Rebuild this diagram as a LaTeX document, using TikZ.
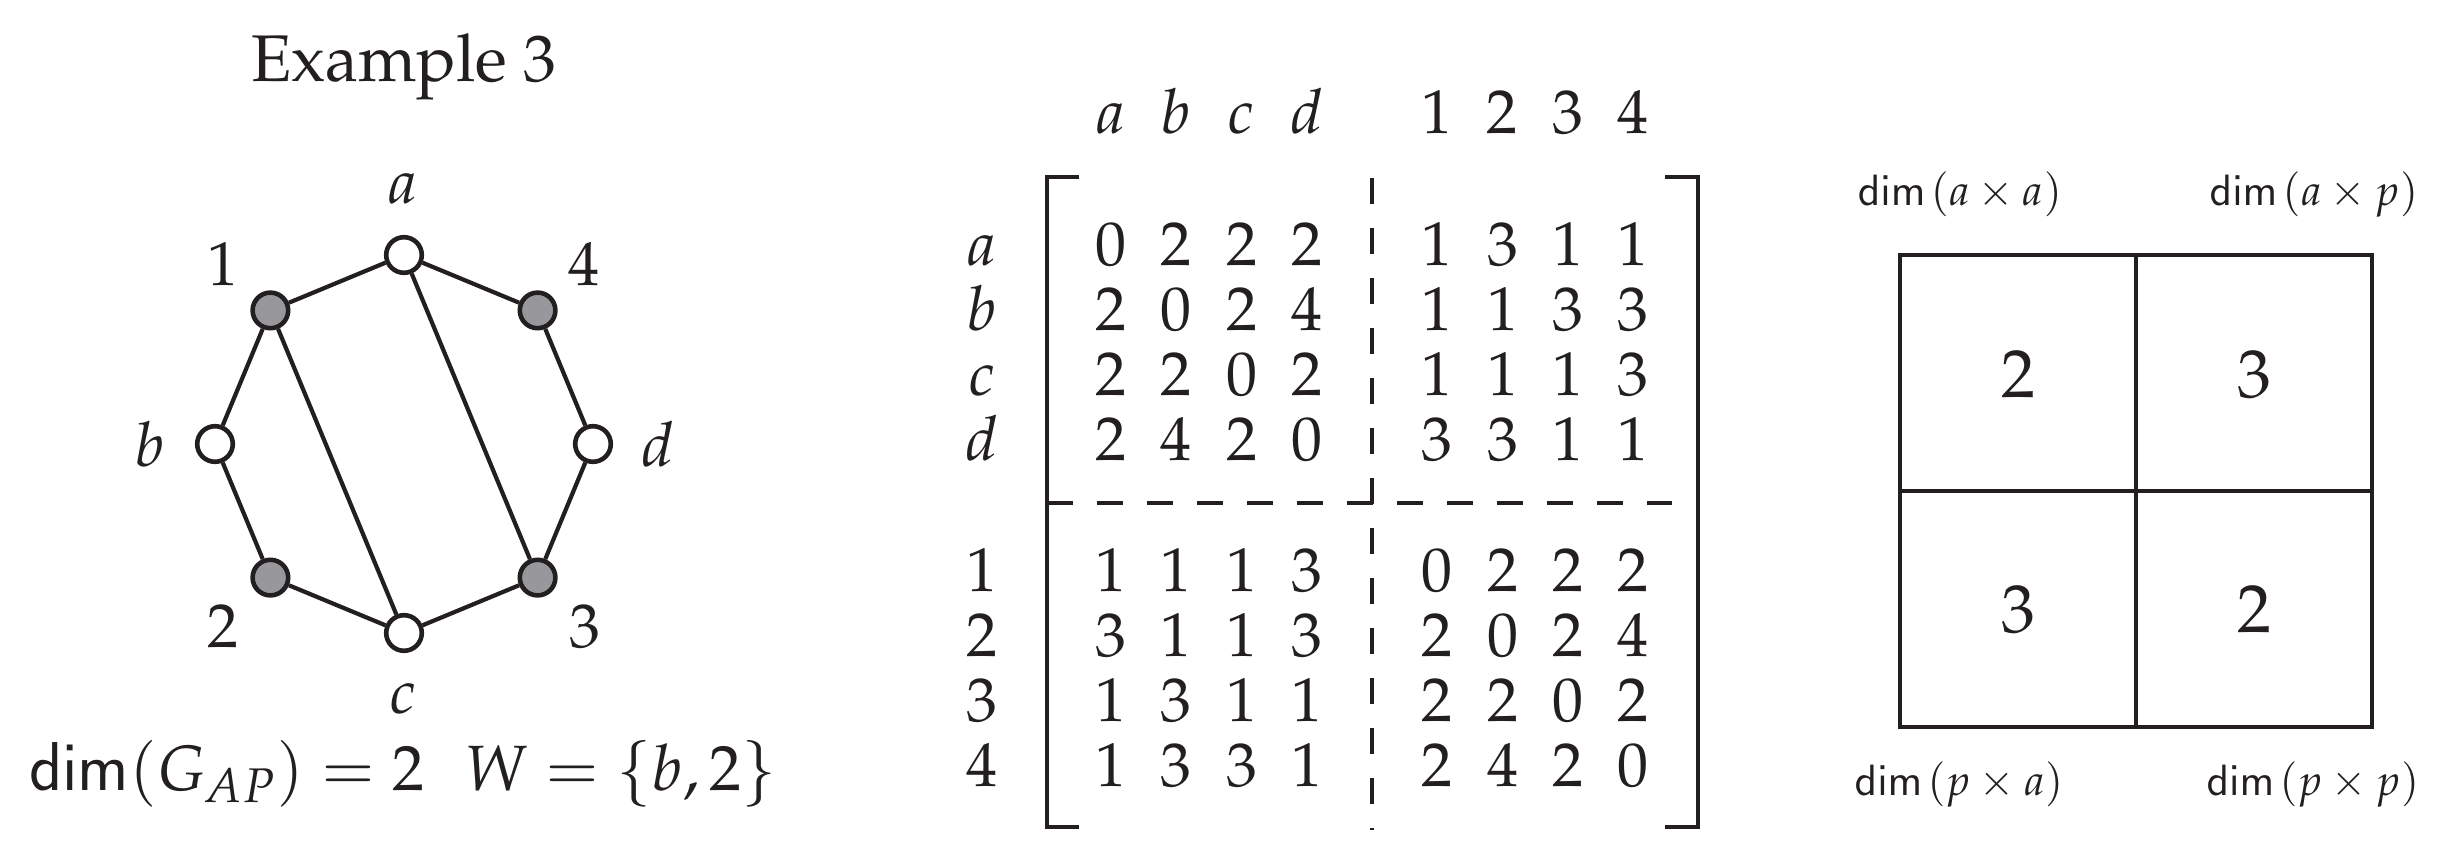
\documentclass[tikz,border=0pt]{standalone}
\usepackage[T1]{fontenc}
\usepackage{mathpazo}
\definecolor{nodegray}{RGB}{152,152,156}
\definecolor{ink}{RGB}{35,31,32}
\tikzset{
  vtx/.style={circle, draw=ink, line width=1.15pt, minimum size=8.9pt, inner sep=0pt},
  wv/.style={vtx, fill=white},
  gv/.style={vtx, fill=nodegray},
  edge/.style={draw=ink, line width=1.05pt},
  lbl/.style={anchor=base, inner sep=0pt, text=ink, font=\fontsize{15.5}{18}\selectfont},
  ttl/.style={anchor=base, inner sep=0pt, text=ink, font=\fontsize{16.5}{20}\selectfont},
  btm/.style={anchor=base, inner sep=0pt, text=ink, font=\fontsize{16}{19}\selectfont},
  mat/.style={anchor=base, inner sep=0pt, text=ink, font=\fontsize{15.5}{18}\selectfont},
  brk/.style={draw=ink, line width=1pt},
  dsh/.style={draw=ink, line width=1pt, dash pattern=on 6.4pt off 6.1pt},
  boxline/.style={draw=ink, line width=1pt},
  boxnum/.style={anchor=base, inner sep=0pt, text=ink, font=\fontsize{17}{20}\selectfont},
  boxlbl/.style={anchor=base, inner sep=0pt, text=ink, font=\fontsize{10.8}{13}\selectfont},
}
\begin{document}
\begin{tikzpicture}[x=0.25pt, y=-0.25pt]
\useasboundingbox (0,0) rectangle (2446,856);
\fill[white] (0,0) rectangle (2446,856);

% ---------------- graph ----------------
\node[ttl] (title) at (404,81) {Example 3};

\node[wv] (va) at (404,255) {};
\node[gv] (v4) at (537.6,310.4) {};
\node[wv] (vd) at (593,444) {};
\node[gv] (v3) at (537.6,577.6) {};
\node[wv] (vc) at (404,633) {};
\node[gv] (v2) at (270.4,577.6) {};
\node[wv] (vb) at (215,444) {};
\node[gv] (v1) at (270.4,310.4) {};

\draw[edge] (va) -- (v1);
\draw[edge] (va) -- (v4);
\draw[edge] (v1) -- (vb);
\draw[edge] (vb) -- (v2);
\draw[edge] (v2) -- (vc);
\draw[edge] (vc) -- (v3);
\draw[edge] (v3) -- (vd);
\draw[edge] (vd) -- (v4);
\draw[edge] (v1) -- (vc);
\draw[edge] (va) -- (v3);

\node[lbl] (la) at (403,203) {$a$};
\node[lbl] (l1) at (223,285) {1};
\node[lbl] (l4) at (584,285) {4};
\node[lbl] (lb) at (150,466) {$b$};
\node[lbl] (ld) at (658,466) {$d$};
\node[lbl] (l2) at (223,647) {2};
\node[lbl] (l3) at (585,647) {3};
\node[lbl] (lc) at (403,713) {$c$};

\node[btm] (formula) at (403,790) {$\mathsf{dim}(G_{AP}) = 2\hspace{0.62em}W = \{b, 2\}$};

% ---------------- matrix ----------------
\foreach \h [count=\c] in {a,b,c,d} {
  \pgfmathsetmacro\xx{1111+65.3*(\c-1)}
  \node[mat] (hl-\c) at (\xx,134) {$\h$};
}
\foreach \h [count=\c] in {1,2,3,4} {
  \pgfmathsetmacro\xx{1437+65.3*(\c-1)}
  \node[mat] (hr-\c) at (\xx,134) {$\h$};
}
\foreach \rn/\rl/\yy/\vals in {
  ra/a/265/{0,2,2,2,1,3,1,1},
  rb/b/330/{2,0,2,4,1,1,3,3},
  rc/c/395/{2,2,0,2,1,1,1,3},
  rd/d/460/{2,4,2,0,3,3,1,1},
  r1/1/591/{1,1,1,3,0,2,2,2},
  r2/2/656/{3,1,1,3,2,0,2,4},
  r3/3/721/{1,3,1,1,2,2,0,2},
  r4/4/786/{1,3,3,1,2,4,2,0}} {
  \node[mat] (lab-\rn) at (982,\yy) {$\rl$};
  \foreach \v [count=\c] in \vals {
    \pgfmathsetmacro\xx{1111+65.3*(\c-1)+(\c>4)*65}
    \node[mat] (m-\rn-\c) at (\xx,\yy) {$\v$};
  }
}
\coordinate (bl1) at (1079,177);
\coordinate (bl2) at (1047,177);
\coordinate (bl3) at (1047,827);
\coordinate (bl4) at (1079,827);
\coordinate (br1) at (1665,177);
\coordinate (br2) at (1698,177);
\coordinate (br3) at (1698,827);
\coordinate (br4) at (1665,827);
\draw[brk] (bl1) -- (bl2) -- (bl3) -- (bl4);
\draw[brk] (br1) -- (br2) -- (br3) -- (br4);
\coordinate (vt) at (1372,178);
\coordinate (vbt) at (1372,830);
\coordinate (hl) at (1047,503);
\coordinate (hr) at (1672,503);
\draw[dsh] (vt) -- (vbt);
\draw[dsh] (hl) -- (hr);

% ---------------- box ----------------
\coordinate (bx1) at (1900,255);
\coordinate (bx2) at (2372,727);
\coordinate (bxt) at (2136,255);
\coordinate (bxb) at (2136,727);
\coordinate (bxl) at (1900,491);
\coordinate (bxr) at (2372,491);
\draw[boxline] (bx1) rectangle (bx2);
\draw[boxline] (bxt) -- (bxb);
\draw[boxline] (bxl) -- (bxr);
\node[boxnum] (n11) at (2018,397) {2};
\node[boxnum] (n12) at (2254,397) {3};
\node[boxnum] (n21) at (2018,632) {3};
\node[boxnum] (n22) at (2254,632) {2};
\node[boxlbl] (d11) at (1960,205) {$\mathsf{dim}\mskip2mu(a\times a)$};
\node[boxlbl] (d12) at (2314,205) {$\mathsf{dim}\mskip2mu(a\times p)$};
\node[boxlbl] (d21) at (1959,795) {$\mathsf{dim}\mskip2mu(p\times a)$};
\node[boxlbl] (d22) at (2313,795) {$\mathsf{dim}\mskip2mu(p\times p)$};
\end{tikzpicture}
\end{document}
